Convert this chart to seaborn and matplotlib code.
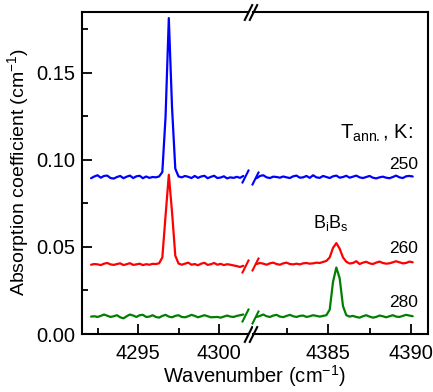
import matplotlib
matplotlib.use("Agg")
import matplotlib.pyplot as plt
import numpy as np
import pandas as pd
import seaborn as sns

# ---------------------------------------------------------------------------
# data
# ---------------------------------------------------------------------------
# left block: 4292.1 ... 4301.5 cm-1, step 0.2
WN_LEFT = np.round(np.arange(4292.1, 4301.55, 0.2), 2)
# right block: 4380.7 ... 4390.1 cm-1, step 0.2
WN_RIGHT = np.round(np.arange(4380.7, 4390.15, 0.2), 2)

BLUE_LEFT = [0.0895, 0.0905, 0.0912, 0.0898, 0.0908, 0.0910, 0.0896, 0.0893,
             0.0902, 0.0908, 0.0895, 0.0904, 0.0910, 0.0896, 0.0906, 0.0909,
             0.0895, 0.0905, 0.0897, 0.0902, 0.0900, 0.0905, 0.0930, 0.1250,
             0.1815, 0.1300, 0.0950, 0.0905, 0.0900, 0.0908, 0.0903, 0.0896,
             0.0908, 0.0897, 0.0905, 0.0909, 0.0895, 0.0903, 0.0909, 0.0896,
             0.0899, 0.0906, 0.0894, 0.0900, 0.0897, 0.0903, 0.0897, 0.0908]
RED_LEFT = [0.0398, 0.0402, 0.0400, 0.0396, 0.0404, 0.0408, 0.0400, 0.0397,
            0.0402, 0.0406, 0.0396, 0.0401, 0.0407, 0.0397, 0.0400, 0.0404,
            0.0396, 0.0401, 0.0398, 0.0403, 0.0402, 0.0406, 0.0440, 0.0680,
            0.0915, 0.0700, 0.0450, 0.0405, 0.0398, 0.0404, 0.0410, 0.0398,
            0.0402, 0.0395, 0.0404, 0.0409, 0.0397, 0.0401, 0.0408, 0.0398,
            0.0403, 0.0396, 0.0401, 0.0398, 0.0394, 0.0390, 0.0385, 0.0392]
GREEN_LEFT = [0.0100, 0.0102, 0.0098, 0.0104, 0.0112, 0.0105, 0.0098, 0.0102,
              0.0108, 0.0096, 0.0090, 0.0102, 0.0112, 0.0106, 0.0098, 0.0108,
              0.0110, 0.0098, 0.0100, 0.0108, 0.0098, 0.0094, 0.0104, 0.0110,
              0.0100, 0.0096, 0.0104, 0.0108, 0.0098, 0.0096, 0.0102, 0.0110,
              0.0104, 0.0096, 0.0102, 0.0108, 0.0102, 0.0096, 0.0097, 0.0098,
              0.0094, 0.0100, 0.0106, 0.0100, 0.0098, 0.0104, 0.0108, 0.0112]

BLUE_RIGHT = [0.0895, 0.0908, 0.0912, 0.0900, 0.0896, 0.0904, 0.0902, 0.0898,
              0.0905, 0.0900, 0.0896, 0.0906, 0.0910, 0.0898, 0.0900, 0.0908,
              0.0897, 0.0912, 0.0900, 0.0897, 0.0908, 0.0902, 0.0896, 0.0906,
              0.0910, 0.0898, 0.0902, 0.0909, 0.0898, 0.0904, 0.0910, 0.0900,
              0.0896, 0.0902, 0.0908, 0.0898, 0.0894, 0.0900, 0.0904, 0.0898,
              0.0895, 0.0902, 0.0910, 0.0900, 0.0896, 0.0906, 0.0908, 0.0905]
RED_RIGHT = [0.0402, 0.0408, 0.0404, 0.0398, 0.0406, 0.0410, 0.0402, 0.0398,
             0.0406, 0.0410, 0.0402, 0.0400, 0.0404, 0.0400, 0.0406, 0.0408,
             0.0404, 0.0406, 0.0410, 0.0408, 0.0414, 0.0420, 0.0440, 0.0495,
             0.0522, 0.0490, 0.0440, 0.0415, 0.0405, 0.0408, 0.0418, 0.0402,
             0.0410, 0.0415, 0.0406, 0.0402, 0.0410, 0.0416, 0.0408, 0.0404,
             0.0406, 0.0412, 0.0418, 0.0412, 0.0406, 0.0408, 0.0416, 0.0412]
GREEN_RIGHT = [0.0098, 0.0104, 0.0112, 0.0102, 0.0098, 0.0106, 0.0110, 0.0100,
               0.0097, 0.0104, 0.0110, 0.0102, 0.0098, 0.0104, 0.0106, 0.0098,
               0.0102, 0.0108, 0.0104, 0.0100, 0.0104, 0.0108, 0.0140, 0.0300,
               0.0382, 0.0320, 0.0160, 0.0108, 0.0100, 0.0104, 0.0098, 0.0094,
               0.0102, 0.0108, 0.0100, 0.0094, 0.0098, 0.0106, 0.0102, 0.0096,
               0.0102, 0.0108, 0.0100, 0.0098, 0.0104, 0.0110, 0.0106, 0.0102]

SERIES = [  # (annealing T label, colour, left, right)
    ("250", "#0000ff", BLUE_LEFT, BLUE_RIGHT),
    ("260", "#ff0000", RED_LEFT, RED_RIGHT),
    ("280", "#007f00", GREEN_LEFT, GREEN_RIGHT),
]
LABEL_Y = {"250": 0.0948, "260": 0.0466, "280": 0.0153}

XLIM_LEFT = (4291.54, 4301.79)
XLIM_RIGHT = (4380.48, 4391.02)
YLIM = (0.0, 0.185)

# ---------------------------------------------------------------------------
# style
# ---------------------------------------------------------------------------
sns.set_style("ticks")
plt.rcParams.update({
    "font.family": ["Liberation Sans", "DejaVu Sans"],
    "mathtext.fontset": "custom",
    "mathtext.rm": "Liberation Sans",
    "mathtext.it": "Liberation Sans:italic",
    "font.size": 14,
    "text.color": "black",
    "axes.labelcolor": "black",
    "axes.edgecolor": "black",
    "xtick.color": "black",
    "ytick.color": "black",
    "axes.linewidth": 1.5,
    "xtick.direction": "in",
    "ytick.direction": "in",
    "xtick.major.size": 7, "ytick.major.size": 7,
    "xtick.minor.size": 4, "ytick.minor.size": 4,
    "xtick.major.width": 1.3, "ytick.major.width": 1.3,
    "xtick.minor.width": 1.3, "ytick.minor.width": 1.3,
    "xtick.labelsize": 14.5, "ytick.labelsize": 14.5,
})

W, H = 433, 392
fig = plt.figure(figsize=(W / 100, H / 100), dpi=100)
bottom, top = 334, 12
ax_l = fig.add_axes([82 / W, (H - bottom) / H, (248 - 82) / W, (bottom - top) / H])
ax_r = fig.add_axes([253 / W, (H - bottom) / H, (428 - 253) / W, (bottom - top) / H],
                    sharey=ax_l)

SLASH = [(-0.5, -1), (0.5, 1)]

for lab, col, yl, yr in SERIES:
    sns.lineplot(data=pd.DataFrame({"wn": WN_LEFT, "a": yl}), x="wn", y="a",
                 ax=ax_l, color=col, lw=1.6)
    sns.lineplot(data=pd.DataFrame({"wn": WN_RIGHT, "a": yr}), x="wn", y="a",
                 ax=ax_r, color=col, lw=1.6)
    # "//" break marks on every spectrum
    ax_l.plot([WN_LEFT[-1] + 0.12], [yl[-1]], marker=SLASH,
              ms=10, mew=1.5, color=col, clip_on=False)
    ax_r.plot([WN_RIGHT[0] - 0.12], [yr[0]], marker=SLASH,
              ms=10, mew=1.5, color=col, clip_on=False)
    ax_r.text(4390.4, LABEL_Y[lab], lab, ha="right", va="baseline", fontsize=12.5)

ax_r.text(4390.15, 0.112, r"T$_{\mathrm{ann.}}$, K:", ha="right", va="baseline",
          fontsize=14.5)
ax_r.text(4385.15, 0.0608, r"B$_\mathrm{i}$B$_\mathrm{s}$", ha="center",
          va="baseline", fontsize=13)

ax_l.set_xlim(*XLIM_LEFT)
ax_r.set_xlim(*XLIM_RIGHT)
ax_l.set_ylim(*YLIM)
ax_l.set_xticks([4295, 4300])
ax_l.set_xticks([4292.5, 4297.5], minor=True)
ax_r.set_xticks([4385, 4390])
ax_r.set_xticks([4382.5, 4387.5], minor=True)
ax_l.set_yticks([0.0, 0.05, 0.10, 0.15])
ax_l.set_yticks([0.025, 0.075, 0.125, 0.175], minor=True)
ax_l.set_yticklabels(["0.00", "0.05", "0.10", "0.15"])
ax_l.tick_params(axis="x", pad=7)
ax_r.tick_params(axis="x", pad=7)
ax_l.tick_params(axis="y", which="both", right=False, pad=5)
ax_r.tick_params(axis="y", which="both", left=False, right=False, labelleft=False)

ax_l.spines["right"].set_visible(False)
ax_r.spines["left"].set_visible(False)
for ax in (ax_l, ax_r):
    ax.spines["top"].set_visible(True)
    ax.set_xlabel("")
    ax.set_ylabel("")

# "//" marks where the axis is broken
for yy in (0, 1):
    ax_l.plot([1.0], [yy], transform=ax_l.transAxes, marker=SLASH,
              ms=12, mew=1.5, color="black", clip_on=False)
    ax_r.plot([0.0], [yy], transform=ax_r.transAxes, marker=SLASH,
              ms=12, mew=1.5, color="black", clip_on=False)

fig.text(18 / W, 1 - 172 / H, "Absorption coefficient (cm$^{-1}$)", rotation=90,
         ha="center", va="center", fontsize=14)
fig.text(254 / W, 1 - 376 / H, "Wavenumber (cm$^{-1}$)", ha="center", va="center",
         fontsize=14.5)

fig.savefig("out.png", dpi=100)
